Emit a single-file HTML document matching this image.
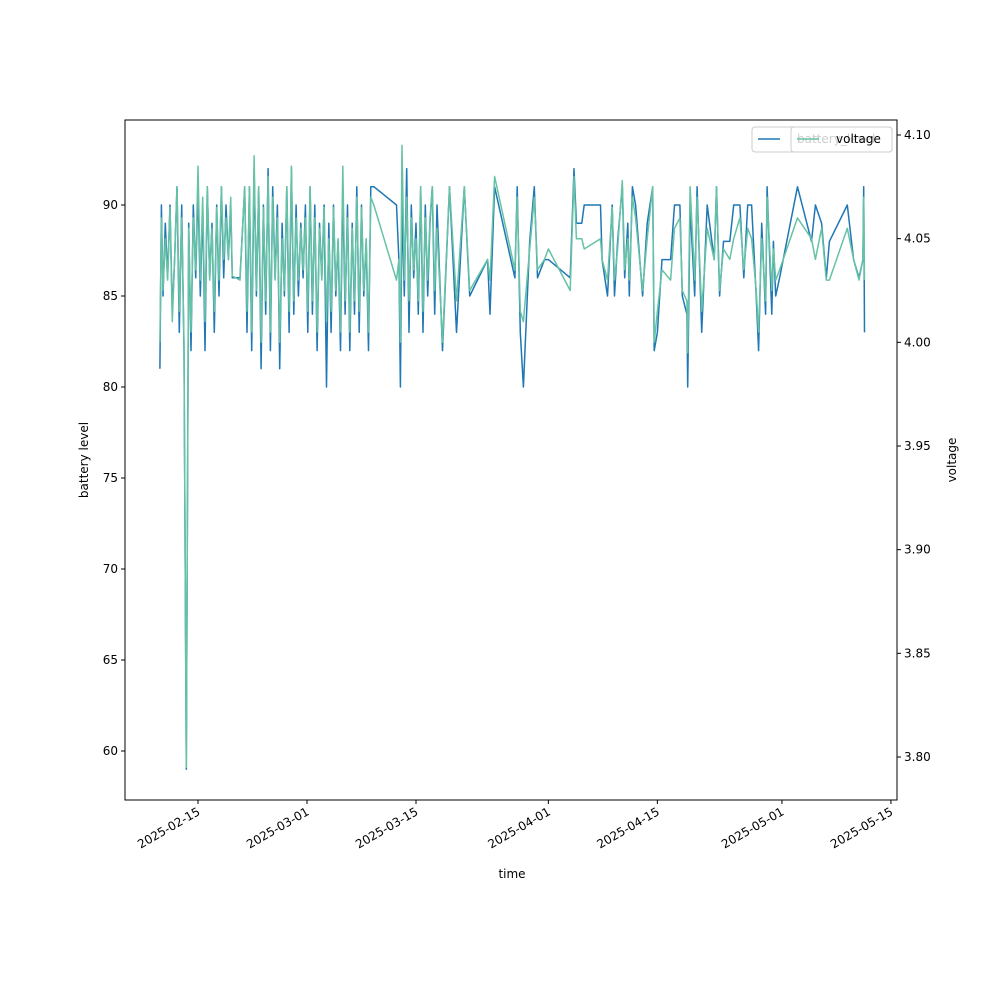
<!DOCTYPE html>
<html><head><meta charset="utf-8"><style>
body{margin:0;background:#fff}
svg text{font-family:"DejaVu Sans","Liberation Sans",sans-serif;font-size:12px;fill:#000}
</style></head><body>
<svg id="chart" width="1000" height="1000" xmlns="http://www.w3.org/2000/svg">
<g id="plot"></g>
<g id="axes"></g>
<g id="legend"></g>
</svg>
<script>
const dayTicks=[14,28,42,59,73,89,103];
const dayTickLabels=["2025-02-15","2025-03-01","2025-03-15","2025-04-01","2025-04-15","2025-05-01","2025-05-15"];
const batteryTicks=[60,65,70,75,80,85,90];
const voltageTicks=[3.80,3.85,3.90,3.95,4.00,4.05,4.10];
const voltageTickLabels=["3.80","3.85","3.90","3.95","4.00","4.05","4.10"];
const times=[9.1,9.3,9.5,9.8,10.1,10.4,10.7,11.0,11.3,11.6,11.9,12.2,12.5,12.8,13.1,13.4,13.7,14.0,14.3,14.6,14.9,15.2,15.5,15.8,16.1,16.4,16.7,17.0,17.3,17.6,17.9,18.2,18.4,19.4,20.0,20.3,20.6,20.9,21.2,21.5,21.8,22.1,22.4,22.7,23.0,23.3,23.6,23.9,24.2,24.5,24.8,25.1,25.4,25.7,26.0,26.3,26.6,26.9,27.2,27.5,27.8,28.1,28.4,28.7,29.0,29.3,29.6,29.9,30.2,30.5,30.8,31.1,31.4,31.7,32.0,32.3,32.6,32.9,33.2,33.5,33.8,34.1,34.4,34.7,35.0,35.3,35.6,35.9,36.2,36.6,
39.5,39.8,40.0,40.2,40.5,40.8,41.1,41.4,41.7,42.0,42.3,42.6,42.9,43.2,43.5,43.8,44.1,44.4,44.7,45.4,46.3,47.2,48.2,48.9,51.2,51.5,52.1,54.7,55.0,55.4,55.8,56.6,57.2,57.6,58.5,59.0,61.8,62.3,62.6,63.3,63.6,65.7,65.9,66.6,67.2,67.5,67.9,68.5,68.8,69.2,69.4,69.8,70.2,71.1,71.7,72.4,72.6,73.0,73.6,74.7,75.2,75.9,76.2,76.8,76.9,77.2,77.8,78.1,78.7,79.4,80.3,80.6,81.0,81.5,82.3,82.8,83.6,84.1,84.6,85.1,85.7,86.0,86.4,86.9,87.1,87.7,87.9,88.2,88.7,91.0,92.8,93.3,94.1,94.7,95.1,97.4,98.2,98.9,99.4,99.5,99.6];
const battery=[81,90,85,89,86,90,84,87,91,83,90,82,59,89,82,90,86,91,85,90,82,91,86,89,83,90,85,91,86,90,87,90,86,86,91,83,91,82,92,85,91,81,90,84,92,82,91,86,90,81,89,85,91,83,92,84,90,85,89,86,90,83,91,84,90,82,89,86,90,80,89,83,90,85,88,82,91,84,90,82,89,84,91,83,90,85,88,82,91,91,
90,87,80,90,85,92,83,90,86,89,84,91,83,90,85,89,91,84,90,82,91,83,91,85,87,84,91,86,91,83,80,88,91,86,87,87,86,92,89,89,90,90,87,85,90,85,88,91,86,89,85,91,90,85,89,91,82,83,87,87,90,90,85,84,80,90,85,91,83,90,87,91,85,88,88,90,90,86,90,90,85,82,89,84,91,84,88,85,86,91,88,90,89,86,88,90,87,86,87,91,83];
const voltage=[4.000,4.060,4.025,4.050,4.030,4.065,4.010,4.040,4.075,4.015,4.060,4.000,3.795,4.055,4.005,4.060,4.035,4.085,4.030,4.070,4.010,4.075,4.030,4.055,4.015,4.065,4.030,4.075,4.040,4.060,4.040,4.070,4.032,4.030,4.075,4.015,4.075,4.005,4.090,4.025,4.075,4.000,4.065,4.020,4.080,4.005,4.070,4.030,4.060,4.000,4.050,4.025,4.075,4.015,4.085,4.020,4.060,4.030,4.055,4.035,4.060,4.015,4.075,4.020,4.060,4.005,4.055,4.030,4.065,4.010,4.050,4.015,4.065,4.025,4.050,4.005,4.085,4.020,4.060,4.005,4.055,4.020,4.070,4.015,4.065,4.025,4.050,4.005,4.070,4.066,
4.030,4.040,4.000,4.095,4.030,4.070,4.020,4.060,4.035,4.050,4.020,4.075,4.015,4.060,4.030,4.060,4.075,4.025,4.055,4.000,4.075,4.020,4.075,4.025,4.040,4.030,4.080,4.035,4.070,4.015,4.010,4.045,4.070,4.035,4.040,4.045,4.025,4.080,4.050,4.050,4.045,4.050,4.040,4.030,4.065,4.030,4.045,4.078,4.035,4.050,4.030,4.070,4.060,4.025,4.050,4.075,4.000,4.015,4.035,4.030,4.055,4.060,4.025,4.020,3.995,4.075,4.030,4.070,4.015,4.055,4.040,4.075,4.025,4.045,4.040,4.050,4.060,4.035,4.055,4.050,4.025,4.005,4.050,4.020,4.070,4.025,4.045,4.030,4.035,4.060,4.050,4.040,4.055,4.030,4.030,4.055,4.040,4.030,4.040,4.070,4.030];

const NS="http://www.w3.org/2000/svg";
const L=125,R=897,T=120,B=800;
function xScale(d){return 198+(d-14)*7.7857;}
function yLeft(b){return 205+(90-b)*18.2;}
function yRight(v){return 135+(4.10-v)*2073.3;}
function mk(tag,attrs,parent){const e=document.createElementNS(NS,tag);for(const k in attrs)e.setAttribute(k,attrs[k]);parent.appendChild(e);return e;}
const plot=document.getElementById('plot'),axes=document.getElementById('axes'),legend=document.getElementById('legend');

let pb=times.map((t,i)=>xScale(t).toFixed(1)+','+yLeft(battery[i]).toFixed(1)).join(' ');
let lb=mk('polyline',{points:pb,fill:'none',stroke:'#1f77b4','stroke-width':1.5,'stroke-linejoin':'round'},plot);


let pv=times.map((t,i)=>xScale(t).toFixed(1)+','+yRight(voltage[i]).toFixed(1)).join(' ');
let lv=mk('polyline',{points:pv,fill:'none',stroke:'#66c2a5','stroke-width':1.5,'stroke-linejoin':'round'},plot);



let fr=mk('rect',{x:L,y:T,width:R-L,height:B-T,fill:'none',stroke:'#000','stroke-width':1},axes);



dayTicks.forEach((d,i)=>{const x=xScale(d);
 mk('line',{x1:x,y1:B,x2:x,y2:B+4,stroke:'#000'},axes);
 const t=mk('text',{x:x+3,y:B+14,'text-anchor':'end',transform:`rotate(-30 ${x+3} ${B+14})`},axes);
 t.textContent=dayTickLabels[i];
 
 
});
batteryTicks.forEach(b=>{const y=yLeft(b);
 mk('line',{x1:L-4,y1:y,x2:L,y2:y,stroke:'#000'},axes);
 const t=mk('text',{x:L-7,y:y+4,'text-anchor':'end'},axes);t.textContent=b;
 
 
});
voltageTicks.forEach((v,i)=>{const y=yRight(v);
 mk('line',{x1:R,y1:y,x2:R+4,y2:y,stroke:'#000'},axes);
 const t=mk('text',{x:R+7,y:y+4},axes);t.textContent=voltageTickLabels[i];
 
 
});
let xt=mk('text',{x:512,y:878,'text-anchor':'middle'},axes);xt.textContent='time';


let yt=mk('text',{x:88,y:460,'text-anchor':'middle',transform:'rotate(-90 88 460)'},axes);yt.textContent='battery level';


let vt=mk('text',{x:956,y:460,'text-anchor':'middle',transform:'rotate(-90 956 460)'},axes);vt.textContent='voltage';



let g1=mk('g',{},legend);


mk('rect',{x:752,y:127,width:140,height:25,rx:3,fill:'#fff','fill-opacity':0.8,stroke:'#ccc'},g1);
mk('line',{x1:758,y1:139,x2:780,y2:139,stroke:'#1f77b4','stroke-width':1.5},g1);
let t1=mk('text',{x:797,y:143},g1);t1.textContent='battery_level';
let g2=mk('g',{},legend);


mk('rect',{x:791,y:127,width:101,height:25,rx:3,fill:'#fff','fill-opacity':0.8,stroke:'#ccc'},g2);
mk('line',{x1:797,y1:139,x2:819,y2:139,stroke:'#66c2a5','stroke-width':1.5},g2);
let t2=mk('text',{x:836,y:143},g2);t2.textContent='voltage';
</script>
</body></html>
